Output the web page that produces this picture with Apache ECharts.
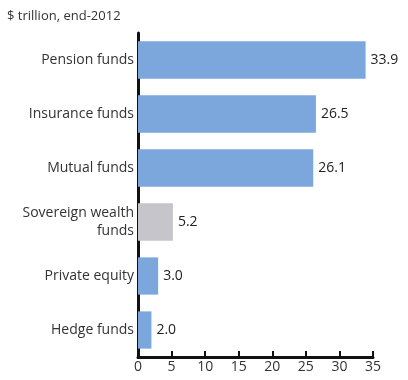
<!DOCTYPE html>
<html><head><meta charset="utf-8">
<script src="https://cdn.jsdelivr.net/npm/echarts@6/dist/echarts.min.js"></script>
<style>html,body{margin:0;padding:0;background:#fff}#c{width:408px;height:380px}</style>
</head><body><div id="c"></div>
<script>
const categories = ["Pension funds","Insurance funds","Mutual funds","Sovereign wealth\nfunds","Private equity","Hedge funds"];
const values = [33.9, 26.5, 26.1, 5.2, 3.0, 2.0];
const barColors = ["#7ba7dd","#7ba7dd","#7ba7dd","#c5c5cb","#7ba7dd","#7ba7dd"];
const xTicks = [0,5,10,15,20,25,30,35];
const font = "'Open Sans', 'Noto Sans', sans-serif";
const chart = echarts.init(document.getElementById('c'), null, {renderer:'canvas'});
chart.setOption({
  animation:false,
  title:{text:"$ trillion, end-2012", left:2, top:5, textStyle:{fontFamily:font, fontSize:13, fontWeight:'normal', color:'#333'}},
  grid:{left:138, right:35, top:33, bottom:23, containLabel:false},
  xAxis:{type:'value', min:xTicks[0], max:xTicks[xTicks.length-1], interval:5,
    axisLine:{show:true, lineStyle:{color:'#111', width:3}},
    axisTick:{show:true, inside:true, length:6, lineStyle:{color:'#111', width:2}},
    axisLabel:{fontFamily:font, fontSize:14, color:'#333', margin:3},
    splitLine:{show:false}},
  yAxis:{type:'category', data:categories.slice().reverse(), inverse:false,
    axisLine:{show:true, lineStyle:{color:'#111', width:3}},
    axisTick:{show:false},
    axisLabel:{fontFamily:font, fontSize:14, color:'#333', margin:4, align:'right', lineHeight:18}},
  series:[{type:'bar', barCategoryGap:'31%',
    data: values.map((v,i)=>({value:v, itemStyle:{color:barColors[i]}})).reverse(),
    label:{show:true, position:'right', distance:5, fontFamily:font, fontSize:14, color:'#222', formatter:p=>p.value.toFixed(1)}}]
});
</script></body></html>
